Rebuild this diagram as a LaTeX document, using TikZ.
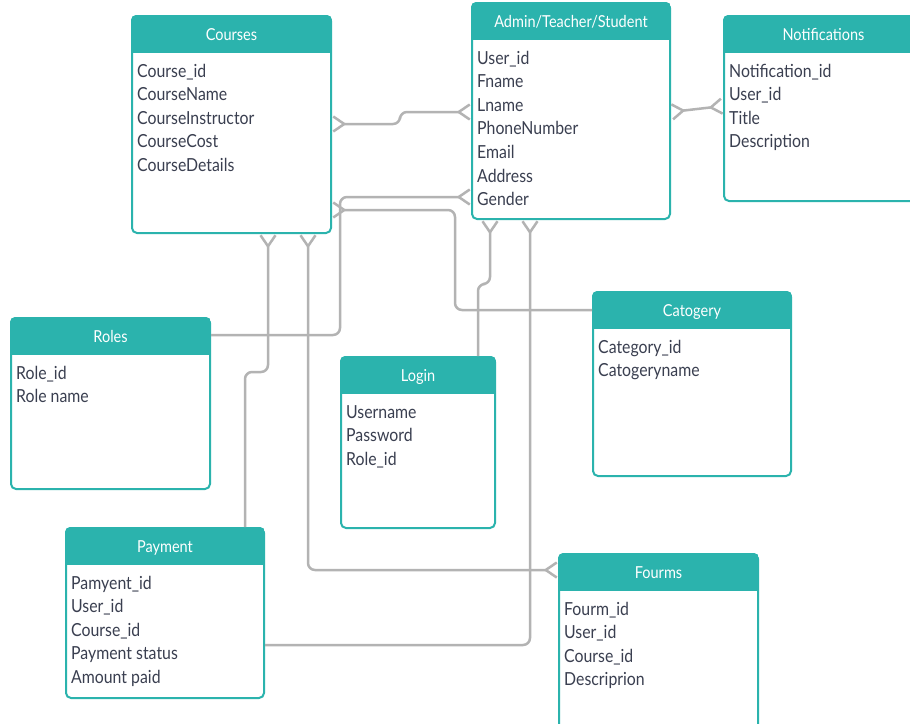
\documentclass[tikz,border=0pt]{standalone}
\usepackage{fontspec}
\setmainfont{Lato}[FakeStretch=0.88]
\usetikzlibrary{positioning, arrows.meta}

\definecolor{hdrteal}{HTML}{2BB3AD}
\definecolor{linkgray}{HTML}{B3B3B3}
\definecolor{rowtext}{HTML}{3A3F50}

\tikzset{
  crow/.tip={Straight Barb[reversed, length=11pt, width=15pt]},
  body/.style={draw=hdrteal, line width=2pt, rounded corners=5pt, fill=white, anchor=north west, inner sep=0pt},
  title/.style={text=white, font=\fontsize{16.5}{20}\selectfont, anchor=base, inner sep=0pt},
  row/.style={text=rowtext, font=\fontsize{18}{21}\selectfont, anchor=base west, inner sep=0pt},
  link/.style={draw=linkgray, line width=2.5pt, rounded corners=7pt}
}

% name, x, y, width, height, title, rows
\newcommand{\entity}[7]{%
  \node[body, minimum width=#4pt, minimum height=#5pt] (#1) at (#2,#3) {};
  \begin{scope}
    \clip[rounded corners=5pt] (#1.north west) rectangle (#1.south east);
    \fill[hdrteal] (#1.north west) rectangle ([yshift=-38pt]#1.north east);
  \end{scope}
  \node[title] (#1-t) at ([yshift=-25pt]#1.north) {#6};
  \foreach \r [count=\i] in {#7}
    \node[row] (#1-\i) at ([xshift=6pt, yshift={-62pt-(\i-1)*23.6pt}]#1.north west) {\r};
}

\begin{document}
\begin{tikzpicture}[x=1pt, y=-1pt]
\useasboundingbox (0,0) rectangle (910,723);
\clip (0,0) rectangle (910,723);
\fill[white] (0,0) rectangle (910,723);

\entity{courses}{131}{15}{199}{217}{Courses}{Course\_id, CourseName, CourseInstructor, CourseCost, CourseDetails}
\entity{admin}{471}{2}{198}{216}{Admin/Teacher/Student}{User\_id, Fname, Lname, PhoneNumber, Email, Address, Gender}
\entity{notif}{723}{15}{199}{185}{Notifications}{Notification\_id, User\_id, Title, Description}
\entity{roles}{10}{317}{199}{171}{Roles}{Role\_id, Role name}
\entity{login}{340}{356}{154}{171}{Login}{Username, Password, Role\_id}
\entity{catog}{592}{291}{198}{184}{Catogery}{Category\_id, Catogeryname}
\entity{payment}{65}{527}{198}{170}{Payment}{Pamyent\_id, User\_id, Course\_id, Payment status, Amount paid}
\entity{fourms}{558}{553}{199}{185}{Fourms}{Fourm\_id, User\_id, Course\_id, Descriprion}

\draw[link, {crow}-{crow}] (courses.east |- 0,124) -- (400,124) -- (400,112) -- (admin.west |- 0,112);
\draw[link, {crow}-{crow}] (admin.east |- 0,112) -- (notif.west |- 0,106);
\draw[link, -{crow}] (roles.east |- 0,335) -- (340,335) -- (340,197) -- (admin.west |- 0,197);
\draw[link, {crow}-] (courses.east |- 0,210) -- (455,210) -- (455,310) -- (catog.west |- 0,310);
\draw[link, {crow}-] (admin.south -| 490,0) -- (490,284) -- (478,284) -- (login.north -| 478,0);
\draw[link, {crow}-] (admin.south -| 530,0) -- (530,645) -- (payment.east |- 0,645);
\draw[link, {crow}-] (courses.south -| 268,0) -- (268,372) -- (245,372) -- (payment.north -| 245,0);
\draw[link, {crow}-{crow}] (courses.south -| 308,0) -- (308,570) -- (fourms.west |- 0,570);

\end{tikzpicture}
\end{document}
